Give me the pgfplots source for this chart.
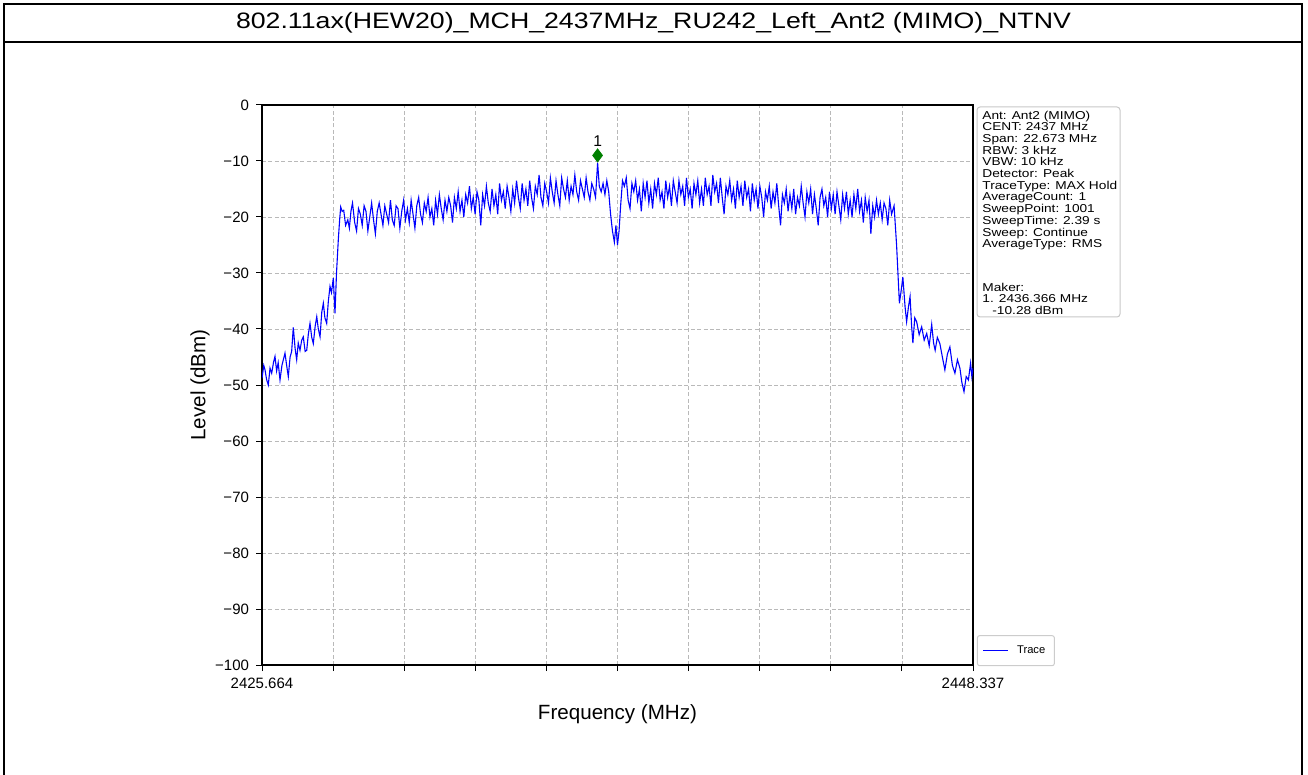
\documentclass[border=0pt]{standalone}
\usepackage{fontspec}
\setmainfont{Liberation Sans}
\usepackage{graphicx}
\usepackage{pgfplots}
\pgfplotsset{compat=1.18}
\usepackage{pgfplotstable}

\pgfplotstableread{
f y
2425.664 -48.8
2425.72 -46.5
2425.76 -47.3
2425.81 -49.0
2425.865 -50.0
2425.92 -47.0
2425.973 -47.9
2426.03 -46.0
2426.079 -44.9
2426.13 -47.5
2426.18 -46.0
2426.238 -49.1
2426.30 -46.5
2426.397 -44.3
2426.45 -46.5
2426.503 -48.5
2426.56 -45.0
2426.61 -44.0
2426.662 -39.7
2426.72 -43.5
2426.77 -45.5
2426.82 -42.5
2426.876 -43.8
2426.93 -42.0
2426.981 -41.4
2427.04 -44.0
2427.09 -43.8
2427.14 -41.0
2427.195 -39.0
2427.25 -41.5
2427.30 -42.6
2427.36 -39.5
2427.41 -37.8
2427.46 -40.0
2427.515 -41.4
2427.57 -37.0
2427.62 -35.4
2427.67 -38.0
2427.727 -39.0
2427.78 -35.0
2427.832 -32.4
2427.88 -33.5
2427.938 -30.9
2427.992 -37.2
2428.04 -30.0
2428.097 -24.1
2428.14 -20.5
2428.174 -18.2
2428.22 -19.0
2428.27 -18.8
2428.33 -21.5
2428.40 -20.5
2428.45 -22.0
2428.50 -19.0
2428.55 -17.5
2428.62 -21.0
2428.68 -22.5
2428.74 -18.5
2428.80 -19.5
2428.86 -21.5
2428.92 -18.0
2428.98 -19.0
2429.04 -22.5
2429.10 -20.0
2429.16 -17.5
2429.22 -20.5
2429.28 -23.0
2429.34 -19.0
2429.40 -17.5
2429.46 -19.5
2429.52 -21.5
2429.58 -18.0
2429.64 -19.5
2429.70 -21.0
2429.76 -17.0
2429.82 -20.5
2429.88 -21.5
2429.94 -18.0
2430.00 -18.5
2430.06 -22.0
2430.12 -19.0
2430.18 -17.0
2430.24 -20.5
2430.30 -18.5
2430.36 -21.0
2430.42 -17.0
2430.48 -19.5
2430.54 -22.0
2430.60 -18.0
2430.66 -16.5
2430.72 -19.5
2430.78 -21.0
2430.84 -17.5
2430.90 -19.0
2430.96 -16.5
2431.02 -20.0
2431.08 -18.5
2431.14 -21.5
2431.20 -17.0
2431.26 -19.5
2431.32 -16.0
2431.38 -18.5
2431.44 -20.5
2431.50 -17.0
2431.56 -19.0
2431.62 -16.5
2431.68 -18.0
2431.74 -21.0
2431.80 -16.5
2431.86 -18.5
2431.92 -15.5
2431.98 -19.0
2432.04 -17.0
2432.10 -20.0
2432.16 -16.0
2432.22 -17.5
2432.28 -14.5
2432.34 -18.5
2432.40 -16.5
2432.46 -19.5
2432.52 -15.5
2432.58 -17.0
2432.64 -21.5
2432.70 -16.0
2432.76 -18.0
2432.82 -14.5
2432.88 -17.5
2432.94 -19.0
2433.00 -15.0
2433.06 -18.0
2433.12 -16.0
2433.18 -19.5
2433.24 -14.0
2433.30 -17.0
2433.36 -15.5
2433.42 -18.5
2433.48 -14.5
2433.54 -16.5
2433.60 -19.0
2433.66 -15.0
2433.72 -17.5
2433.78 -13.5
2433.84 -16.5
2433.90 -18.5
2433.96 -14.0
2434.02 -17.0
2434.08 -15.0
2434.14 -18.0
2434.20 -13.5
2434.26 -16.5
2434.32 -18.5
2434.38 -14.5
2434.44 -16.0
2434.50 -12.5
2434.56 -16.5
2434.62 -18.0
2434.68 -14.0
2434.74 -15.5
2434.80 -17.5
2434.86 -13.0
2434.92 -15.5
2434.98 -17.5
2435.04 -13.5
2435.10 -16.0
2435.16 -18.0
2435.22 -13.0
2435.28 -15.0
2435.34 -16.5
2435.40 -13.5
2435.46 -17.0
2435.52 -14.5
2435.58 -16.0
2435.64 -12.5
2435.70 -15.5
2435.76 -17.0
2435.82 -13.5
2435.88 -15.0
2435.94 -16.5
2436.00 -13.0
2436.06 -15.5
2436.12 -17.0
2436.18 -14.0
2436.24 -15.0
2436.30 -16.5
2436.366 -10.3
2436.42 -14.5
2436.48 -15.5
2436.54 -14.0
2436.60 -16.0
2436.66 -13.5
2436.72 -15.5
2436.78 -19.5
2436.84 -22.5
2436.90 -24.5
2436.95 -21.5
2437.00 -25.0
2437.05 -22.5
2437.10 -18.0
2437.16 -13.5
2437.22 -14.5
2437.28 -13.0
2437.34 -17.0
2437.40 -18.5
2437.46 -14.0
2437.52 -15.5
2437.58 -13.5
2437.64 -17.0
2437.70 -15.0
2437.76 -19.0
2437.82 -14.0
2437.88 -16.5
2437.94 -13.5
2438.00 -17.5
2438.06 -15.0
2438.12 -18.5
2438.18 -14.0
2438.24 -16.0
2438.30 -13.0
2438.36 -17.0
2438.42 -15.5
2438.48 -18.5
2438.54 -13.5
2438.60 -16.5
2438.66 -14.5
2438.72 -18.0
2438.78 -13.5
2438.84 -15.5
2438.90 -17.5
2438.96 -13.5
2439.02 -16.0
2439.08 -14.5
2439.14 -18.0
2439.20 -13.0
2439.26 -16.5
2439.32 -15.0
2439.38 -18.5
2439.44 -14.0
2439.50 -16.0
2439.56 -13.5
2439.62 -17.5
2439.68 -15.0
2439.74 -18.0
2439.80 -13.0
2439.86 -16.0
2439.92 -14.5
2439.98 -18.0
2440.04 -12.5
2440.10 -15.5
2440.16 -14.0
2440.22 -17.5
2440.28 -13.0
2440.34 -16.5
2440.40 -19.5
2440.46 -14.5
2440.52 -16.0
2440.58 -13.5
2440.64 -17.0
2440.70 -15.0
2440.76 -18.5
2440.82 -13.5
2440.88 -16.5
2440.94 -14.5
2441.00 -18.0
2441.06 -13.5
2441.12 -16.5
2441.18 -15.0
2441.24 -19.0
2441.30 -14.0
2441.36 -17.0
2441.42 -15.0
2441.48 -18.5
2441.54 -14.5
2441.60 -16.5
2441.66 -20.0
2441.72 -15.5
2441.78 -17.0
2441.84 -14.5
2441.90 -18.5
2441.96 -15.5
2442.02 -17.5
2442.08 -14.0
2442.14 -18.0
2442.20 -21.5
2442.26 -16.0
2442.32 -17.5
2442.38 -15.0
2442.44 -19.0
2442.50 -16.0
2442.56 -18.5
2442.62 -15.0
2442.68 -19.5
2442.74 -16.5
2442.80 -18.0
2442.86 -14.5
2442.92 -17.5
2442.98 -20.0
2443.04 -15.5
2443.10 -17.5
2443.16 -15.0
2443.22 -19.5
2443.28 -16.0
2443.34 -18.5
2443.40 -21.5
2443.46 -16.5
2443.52 -15.0
2443.58 -18.0
2443.64 -16.5
2443.70 -20.0
2443.76 -15.5
2443.82 -18.5
2443.88 -16.0
2443.94 -19.5
2444.00 -15.5
2444.06 -18.0
2444.12 -20.5
2444.18 -16.0
2444.24 -18.5
2444.30 -15.5
2444.36 -19.5
2444.42 -17.0
2444.48 -20.0
2444.54 -16.0
2444.60 -18.5
2444.66 -15.0
2444.72 -19.0
2444.78 -17.0
2444.84 -21.0
2444.90 -16.5
2444.96 -19.0
2445.02 -17.0
2445.08 -23.0
2445.14 -18.0
2445.20 -20.0
2445.26 -17.0
2445.32 -19.5
2445.38 -17.5
2445.44 -20.5
2445.50 -17.5
2445.56 -18.5
2445.62 -21.5
2445.68 -17.0
2445.74 -19.5
2445.82 -18.0
2445.90 -25.0
2445.99 -35.4
2446.05 -33.0
2446.10 -30.7
2446.17 -36.0
2446.22 -38.7
2446.28 -36.0
2446.33 -34.2
2446.38 -39.5
2446.42 -42.5
2446.48 -38.0
2446.54 -38.7
2446.62 -41.0
2446.70 -39.6
2446.78 -42.0
2446.86 -40.8
2446.94 -43.0
2447.02 -39.2
2447.08 -42.5
2447.13 -43.8
2447.20 -41.5
2447.28 -42.6
2447.36 -45.0
2447.44 -47.3
2447.52 -44.5
2447.60 -43.2
2447.68 -46.5
2447.76 -47.9
2447.84 -45.5
2447.92 -47.0
2447.98 -49.5
2448.05 -51.2
2448.12 -48.5
2448.19 -49.1
2448.26 -46.1
2448.30 -48.5
2448.337 -47.0
}\tracedata

\definecolor{tracecol}{RGB}{0,0,255}
\definecolor{markcol}{RGB}{0,128,0}

\begin{document}
\begin{tikzpicture}[x=0.5pt,y=-0.5pt]
\useasboundingbox (0,0) rectangle (1308,775);
\draw[line width=1pt] (4,775) -- (4,4) -- (1302,4) -- (1302,775);
\draw[line width=1pt] (4,42) -- (1302,42);
\node at (653.5,23) {\scalebox{1}[0.835]{\fontsize{13.35}{16}\selectfont 802.11ax(HEW20)\_MCH\_2437MHz\_RU242\_Left\_Ant2 (MIMO)\_NTNV}};

\begin{axis}[
  at={(131pt,-332.5pt)}, anchor=south west,
  width=355.5pt, height=280pt, scale only axis,
  xmin=2425.664, xmax=2448.337, ymin=-100, ymax=0,
  xtick={2425.664,2427.9313,2430.1986,2432.4659,2434.7332,2437.0005,2439.2678,2441.5351,2443.8024,2446.0697,2448.337},
  xticklabels={2425.664,,,,,,,,,,2448.337},
  ytick={-100,-90,-80,-70,-60,-50,-40,-30,-20,-10,0},
  yticklabels={−100,−90,−80,−70,−60,−50,−40,−30,−20,−10,0},
  tick pos=left, tick align=outside, major tick length=3pt,
  tick style={black, line width=0.5pt},
  axis line style={black, line width=0.7pt},
  grid=major,
  major grid style={gray!55, line width=0.4pt, dash pattern=on 2pt off 1.2pt},
  ticklabel style={font=\fontsize{7.5}{9}\selectfont},
  xlabel={Frequency (MHz)}, ylabel={Level (dBm)},
  label style={font=\fontsize{10.3}{12}\selectfont},
  xlabel style={at={(axis description cs:0.5,-0.0875)}, anchor=center},
  ylabel style={at={(axis description cs:-0.0872,0.5)}, anchor=center},
  legend style={at={(1.0056,-0.002)}, anchor=south west, draw=black!20, rounded corners=1pt,
    font=\fontsize{5.6}{6}\selectfont, inner xsep=2.5pt, inner ysep=2.8pt, line width=0.5pt},
  legend cell align=left,
  legend image code/.code={\draw[#1, line width=0.8pt] (0pt,0pt) -- (12.5pt,0pt);},
]
\addplot[color=tracecol, line width=0.55pt] table[x=f,y=y] {\tracedata};
\addlegendentry{\hspace*{2pt}Trace}
\addplot[only marks, mark=diamond*, mark size=3.25pt, color=markcol, forget plot] coordinates {(2436.366,-9.0)};
\node[font=\fontsize{7.8}{9}\selectfont] at (axis cs:2436.366,-6.5) {1};
\end{axis}

\draw[black!22, line width=0.5pt, rounded corners=1.5pt] (977,107) rectangle (1120,317);
\node[anchor=north west, inner sep=0pt] at (982,110.5) {\scalebox{1}[0.835]{\fontsize{6.85}{6.92}\selectfont
\begin{tabular}{@{}l@{}}
Ant: Ant2 (MIMO)\\
CENT: 2437 MHz\\
Span: 22.673 MHz\\
RBW: 3 kHz\\
VBW: 10 kHz\\
Detector: Peak\\
TraceType: MAX Hold\\
AverageCount: 1\\
SweepPoint: 1001\\
SweepTime: 2.39 s\\
Sweep: Continue\\
AverageType: RMS\\[19pt]
Maker:\\
1. 2436.366 MHz\\
\hspace*{5pt}-10.28 dBm
\end{tabular}}};
\end{tikzpicture}
\end{document}
